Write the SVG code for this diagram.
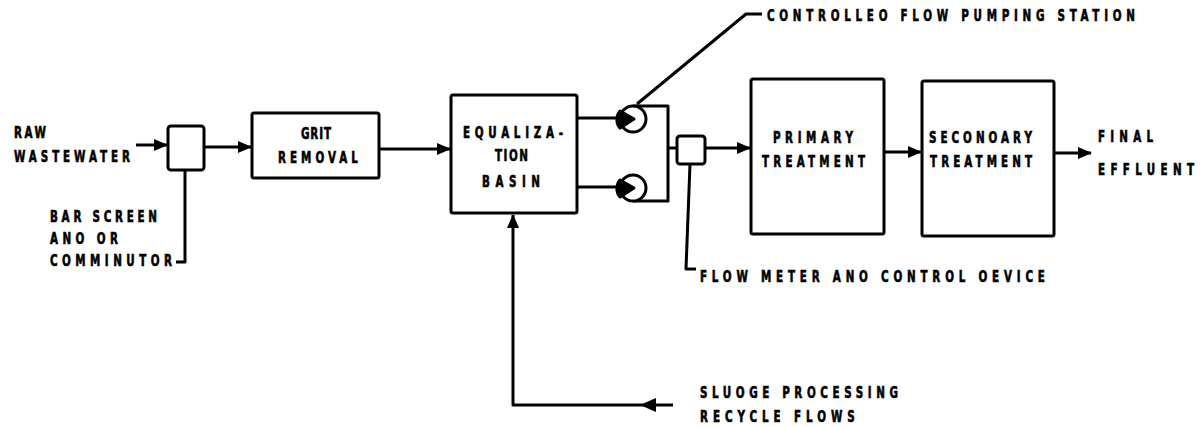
<svg xmlns="http://www.w3.org/2000/svg" width="1204" height="427" viewBox="0 0 1204 427">
<style>
.box{fill:#fff;stroke:#000;stroke-width:3}
.ln{fill:none;stroke:#000;stroke-width:3;stroke-linejoin:round}
.t{font-family:"DejaVu Sans Condensed","Liberation Sans Narrow","Liberation Sans",sans-serif;font-weight:bold;font-size:16px;fill:#000;stroke:#000;stroke-width:0.6}
</style>
<defs>
<marker id="ah" viewBox="0 0 14 12" refX="13" refY="6" markerWidth="14" markerHeight="12" markerUnits="userSpaceOnUse" orient="auto">
<path d="M0,0 L14,6 L0,12 z" fill="#000"/>
</marker>
</defs>
<rect width="1204" height="427" fill="#fff"/>
<g id="connectors">
<line class="ln" x1="136" y1="145" x2="167" y2="145" marker-end="url(#ah)"/>
<line class="ln" x1="204" y1="147" x2="251" y2="147" marker-end="url(#ah)"/>
<line class="ln" x1="380" y1="149" x2="450" y2="149" marker-end="url(#ah)"/>
<line class="ln" x1="577" y1="118" x2="621" y2="118"/>
<line class="ln" x1="577" y1="187" x2="621" y2="187"/>
<polyline class="ln" points="633,106 668,106 668,201 633,201"/>
<line class="ln" x1="668" y1="148" x2="677" y2="148"/>
<line class="ln" x1="705" y1="148" x2="750" y2="148" marker-end="url(#ah)"/>
<line class="ln" x1="884" y1="152" x2="921" y2="152" marker-end="url(#ah)"/>
<line class="ln" x1="1054" y1="153" x2="1091" y2="153" marker-end="url(#ah)"/>
<polyline class="ln" points="673,405 513,405 513,215" marker-end="url(#ah)"/>
<path d="M656,398 L640,405 L656,412 z" fill="#000"/>
<polyline class="ln" points="185,170 185,262 176,262"/>
<polyline class="ln" points="690,164 686,269 696,269"/>
<polyline class="ln" points="637,104 746,14 762,14"/>
</g>
<g id="bar-screen"><rect class="box" x="168" y="126" width="36" height="44" rx="3"/></g>
<g id="grit-removal">
<rect class="box" x="252" y="113" width="127" height="65" rx="2"/>
<text class="t" transform="translate(301 139) scale(0.72 1)" textLength="41.7" lengthAdjust="spacing">GRIT</text>
<text class="t" transform="translate(278 163) scale(0.72 1)" textLength="111" lengthAdjust="spacing">REMOVAL</text>
</g>
<g id="equalization-basin">
<rect class="box" x="451" y="95" width="126" height="118" rx="2"/>
<text class="t" transform="translate(463 138) scale(0.72 1)" textLength="139" lengthAdjust="spacing">EQUALIZA-</text>
<text class="t" transform="translate(495 161) scale(0.72 1)" textLength="45.8" lengthAdjust="spacing">TION</text>
<text class="t" transform="translate(482 187) scale(0.72 1)" textLength="80.6" lengthAdjust="spacing">BASIN</text>
</g>
<g id="pump-1">
<circle cx="633" cy="119" r="13" fill="#fff" stroke="#000" stroke-width="3"/>
<path d="M620,111 L634,119 L620,128 A13,13 0 0 1 620,111 z" fill="#000" stroke="#000" stroke-width="3" stroke-linejoin="round"/>
</g>
<g id="pump-2">
<circle cx="633" cy="188" r="13" fill="#fff" stroke="#000" stroke-width="3"/>
<path d="M620,180 L634,188 L620,197 A13,13 0 0 1 620,180 z" fill="#000" stroke="#000" stroke-width="3" stroke-linejoin="round"/>
</g>
<g id="flow-meter"><rect class="box" x="677" y="136" width="28" height="28" rx="3"/></g>
<g id="primary-treatment">
<rect class="box" x="751" y="79" width="133" height="155" rx="2"/>
<text class="t" transform="translate(773 143) scale(0.72 1)" textLength="111" lengthAdjust="spacing">PRIMARY</text>
<text class="t" transform="translate(762 167) scale(0.72 1)" textLength="143" lengthAdjust="spacing">TREATMENT</text>
</g>
<g id="secondary-treatment">
<rect class="box" x="922" y="81" width="132" height="155" rx="2"/>
<text class="t" transform="translate(929 143) scale(0.72 1)" textLength="143" lengthAdjust="spacing">SECONOARY</text>
<text class="t" transform="translate(930 167) scale(0.72 1)" textLength="141.7" lengthAdjust="spacing">TREATMENT</text>
</g>
<g id="labels">
<text class="t" transform="translate(14 138) scale(0.72 1)" textLength="44.4" lengthAdjust="spacing">RAW</text>
<text class="t" transform="translate(14 162) scale(0.72 1)" textLength="161" lengthAdjust="spacing">WASTEWATER</text>
<text class="t" transform="translate(50 222) scale(0.72 1)" textLength="148.6" lengthAdjust="spacing">BAR SCREEN</text>
<text class="t" transform="translate(50 244) scale(0.72 1)" textLength="94.4" lengthAdjust="spacing">ANO OR</text>
<text class="t" transform="translate(50 266) scale(0.72 1)" textLength="169.4" lengthAdjust="spacing">COMMINUTOR</text>
<text class="t" transform="translate(1098 142) scale(0.72 1)" textLength="76.4" lengthAdjust="spacing">FINAL</text>
<text class="t" transform="translate(1098 175) scale(0.72 1)" textLength="133.3" lengthAdjust="spacing">EFFLUENT</text>
<text class="t" transform="translate(767 21) scale(0.72 1)" textLength="511" lengthAdjust="spacing">CONTROLLEO FLOW PUMPING STATION</text>
<text class="t" transform="translate(700 282) scale(0.72 1)" textLength="479" lengthAdjust="spacing">FLOW METER ANO CONTROL OEVICE</text>
<text class="t" transform="translate(700 398) scale(0.72 1)" textLength="275" lengthAdjust="spacing">SLUOGE PROCESSING</text>
<text class="t" transform="translate(700 422) scale(0.72 1)" textLength="215" lengthAdjust="spacing">RECYCLE FLOWS</text>
</g>
</svg>
